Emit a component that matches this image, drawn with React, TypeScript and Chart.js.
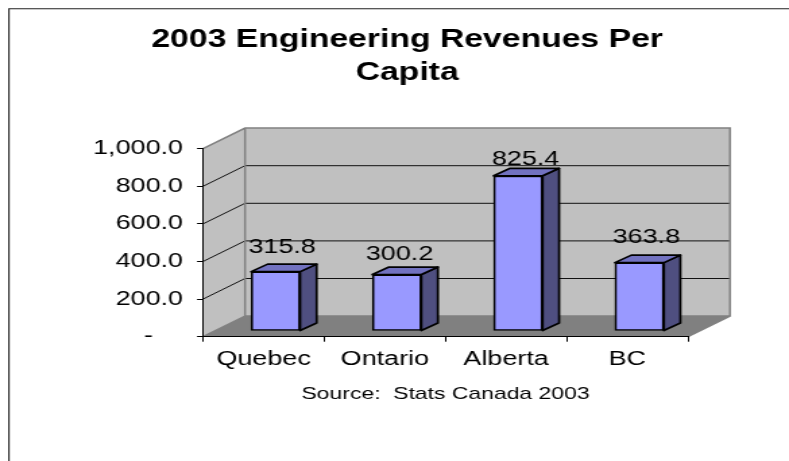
import { useEffect, useRef } from "react";
import { Chart, registerables } from "chart.js";

Chart.register(...registerables);

// Chart values
const provinces = ["Quebec", "Ontario", "Alberta", "BC"];
const revenuePerCapita = [315.8, 300.2, 825.4, 363.8];
const titleLines = ["2003 Engineering Revenues Per", "Capita"];
const sourceNote = "Source:  Stats Canada 2003";

// The whole drawing is widened by this factor, so layout is given in page pixels
const CANVAS_W = 585;
const CANVAS_H = 461;
const STRETCH = 789 / CANVAS_W;
const px = (v: number) => v / STRETCH;

const FONT = "'Liberation Sans', Arial, sans-serif";

// Pseudo-3D depth of the plot box and of the bars
const WALL_DX = px(42);
const WALL_DY = 20.6;
const BAR_SHIFT_X = px(12);
const BAR_SHIFT_Y = 5.7;
const BAR_DX = px(16.5);
const BAR_DY = 7.5;

// Hand placement of each value label relative to its bar
const labelShiftX = [6.5, 2.7, 7.5, 7];
const labelLift = [24, 20, 16, 24.7];

const depthPlugin = {
  id: "depthBox",
  beforeDraw(chart: any) {
    const { ctx, chartArea: a, scales } = chart;
    const y = scales.y;
    // tick labels reach past the layout padding, so let the axis own that strip
    y.left = 0;
    const top = y.getPixelForValue(1000);
    const bottom = y.getPixelForValue(0);
    ctx.save();

    // outer frame, open on the right and at the bottom
    ctx.strokeStyle = "#222222";
    ctx.lineWidth = 1.1;
    ctx.beginPath();
    ctx.moveTo(px(8.9), CANVAS_H);
    ctx.lineTo(px(8.9), 8.8);
    ctx.lineTo(CANVAS_W, 8.8);
    ctx.stroke();

    // back wall
    ctx.fillStyle = "#c0c0c0";
    ctx.fillRect(a.left + WALL_DX, top - WALL_DY, a.right - a.left, bottom - top);

    // side wall
    ctx.beginPath();
    ctx.moveTo(a.left, top);
    ctx.lineTo(a.left + WALL_DX, top - WALL_DY);
    ctx.lineTo(a.left + WALL_DX, bottom - WALL_DY);
    ctx.lineTo(a.left, bottom);
    ctx.closePath();
    ctx.fill();

    // floor
    ctx.fillStyle = "#808080";
    ctx.beginPath();
    ctx.moveTo(a.left, bottom);
    ctx.lineTo(a.right, bottom);
    ctx.lineTo(a.right + WALL_DX, bottom - WALL_DY);
    ctx.lineTo(a.left + WALL_DX, bottom - WALL_DY);
    ctx.closePath();
    ctx.fill();

    // gridlines run up the side wall, then across the back wall
    ctx.strokeStyle = "#111111";
    ctx.lineWidth = 1;
    for (const t of y.ticks) {
      if (t.value === 0 || t.value === 1000) continue;
      const py = y.getPixelForValue(t.value);
      ctx.beginPath();
      ctx.moveTo(a.left, py);
      ctx.lineTo(a.left + WALL_DX, py - WALL_DY);
      ctx.lineTo(a.right + WALL_DX, py - WALL_DY);
      ctx.stroke();
    }

    // wall outlines
    ctx.strokeStyle = "#808080";
    ctx.lineWidth = 1.5;
    ctx.beginPath();
    ctx.moveTo(a.left, top);
    ctx.lineTo(a.left + WALL_DX, top - WALL_DY);
    ctx.lineTo(a.right + WALL_DX, top - WALL_DY);
    ctx.lineTo(a.right + WALL_DX, bottom - WALL_DY);
    ctx.lineTo(a.right, bottom);
    ctx.moveTo(a.left + WALL_DX, top - WALL_DY);
    ctx.lineTo(a.left + WALL_DX, bottom - WALL_DY);
    ctx.lineTo(a.right + WALL_DX, bottom - WALL_DY);
    ctx.moveTo(a.left, bottom);
    ctx.lineTo(a.left + WALL_DX, bottom - WALL_DY);
    ctx.stroke();
    ctx.restore();
  },
  beforeDatasetDraw(chart: any, args: any) {
    const { ctx } = chart;
    ctx.save();
    ctx.translate(BAR_SHIFT_X, -BAR_SHIFT_Y);

    // side and top faces of each bar, taken from the bar element itself
    ctx.strokeStyle = "#000000";
    ctx.lineWidth = 1.7;
    ctx.lineJoin = "round";
    for (const bar of args.meta.data) {
      const { x, y, base, width } = bar.getProps(["x", "y", "base", "width"], true);
      const l = x - width / 2;
      const r = x + width / 2;
      ctx.fillStyle = "#4f4f80";
      ctx.beginPath();
      ctx.moveTo(r, y);
      ctx.lineTo(r + BAR_DX, y - BAR_DY);
      ctx.lineTo(r + BAR_DX, base - BAR_DY);
      ctx.lineTo(r, base);
      ctx.closePath();
      ctx.fill();
      ctx.stroke();
      ctx.fillStyle = "#7272c0";
      ctx.beginPath();
      ctx.moveTo(l, y);
      ctx.lineTo(l + BAR_DX, y - BAR_DY);
      ctx.lineTo(r + BAR_DX, y - BAR_DY);
      ctx.lineTo(r, y);
      ctx.closePath();
      ctx.fill();
      ctx.stroke();
    }
  },
  afterDatasetDraw(chart: any) {
    chart.ctx.restore();
  },
  afterDatasetsDraw(chart: any) {
    const { ctx } = chart;
    const meta = chart.getDatasetMeta(0);
    ctx.save();
    ctx.fillStyle = "#000000";
    ctx.font = `20px ${FONT}`;
    ctx.textAlign = "center";
    ctx.textBaseline = "middle";
    meta.data.forEach((bar: any, i: number) => {
      const value = chart.data.datasets[0].data[i] as number;
      const { x, y } = bar.getProps(["x", "y"], true);
      ctx.fillText(
        value.toFixed(1),
        x + BAR_SHIFT_X + px(labelShiftX[i]),
        y - BAR_SHIFT_Y - labelLift[i]
      );
    });
    ctx.restore();
  },
};

export default function App() {
  const ref = useRef<HTMLCanvasElement>(null);

  useEffect(() => {
    const chart = new Chart(ref.current as HTMLCanvasElement, {
      type: "bar",
      data: {
        labels: provinces,
        datasets: [
          {
            data: revenuePerCapita,
            backgroundColor: "#9999ff",
            borderColor: "#000000",
            borderWidth: 1.7,
            borderSkipped: false,
            barThickness: px(49),
            clip: false,
          },
        ],
      },
      options: {
        responsive: false,
        animation: false,
        events: [],
        devicePixelRatio: 1,
        layout: {
          autoPadding: false,
          padding: { left: 93.6, right: CANVAS_W - px(688), top: 0, bottom: 56.3 },
        },
        plugins: {
          legend: { display: false },
          tooltip: { enabled: false },
          title: {
            display: true,
            text: titleLines,
            color: "#000000",
            font: { family: FONT, size: 25, weight: "bold", lineHeight: 1.32 },
            padding: { top: 24, bottom: 148.7 - 24 - 66 },
          },
        },
        scales: {
          x: {
            afterFit: (s: any) => {
              s.height = 68;
            },
            grid: {
              offset: true,
              drawOnChartArea: false,
              tickLength: 5,
              tickWidth: 1,
              tickColor: "#000000",
            },
            border: { color: "#000000", width: 1 },
            ticks: {
              color: "#000000",
              font: { family: FONT, size: 20 },
              padding: 6,
              maxRotation: 0,
            },
            title: {
              display: true,
              text: sourceNote,
              color: "#000000",
              font: { family: FONT, size: 17 },
              padding: { top: 3, bottom: 0 },
            },
          },
          y: {
            min: 0,
            max: 1000,
            afterFit: (s: any) => {
              s.width = px(203) - 93.6;
            },
            grid: {
              drawOnChartArea: false,
              tickLength: px(6),
              tickWidth: 1,
              tickColor: "#000000",
            },
            border: { color: "#000000", width: 1 },
            ticks: {
              stepSize: 200,
              color: "#000000",
              font: { family: FONT, size: 20 },
              padding: px(14),
              callback: (v: any) =>
                v === 0
                  ? "-\u00a0\u00a0\u00a0\u00a0"
                  : Number(v).toLocaleString("en-US", {
                      minimumFractionDigits: 1,
                      maximumFractionDigits: 1,
                    }),
            },
          },
        },
      },
      plugins: [depthPlugin],
    } as any);
    return () => chart.destroy();
  }, []);

  return (
    <canvas
      ref={ref}
      width={CANVAS_W}
      height={CANVAS_H}
      style={{
        position: "absolute",
        left: 0,
        top: 0,
        transform: `scaleX(${STRETCH})`,
        transformOrigin: "0 0",
      }}
    />
  );
}
